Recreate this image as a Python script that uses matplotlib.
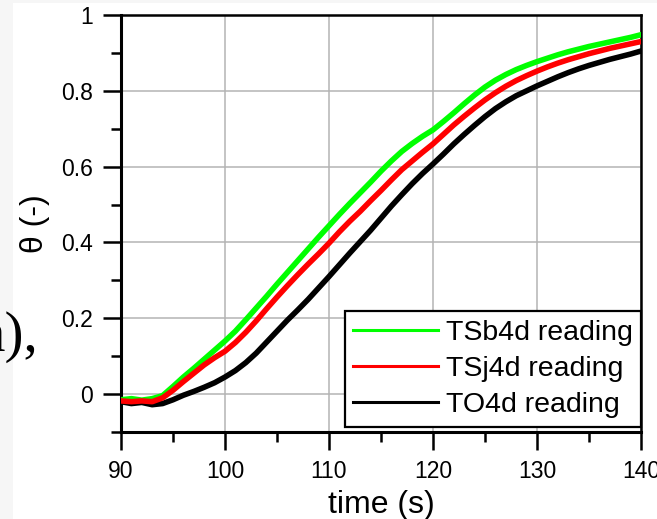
import matplotlib
matplotlib.use("Agg")
import matplotlib.pyplot as plt
from matplotlib.patches import Rectangle
from matplotlib.ticker import MultipleLocator, FuncFormatter

# ---- data ----
time_s = list(range(90, 141))
tsb4d = [-0.015, -0.012, -0.016, -0.012, -0.004, 0.020, 0.045, 0.068, 0.092, 0.116,
         0.140, 0.166, 0.196, 0.227, 0.258, 0.290, 0.321, 0.352, 0.383, 0.414,
         0.444, 0.474, 0.503, 0.531, 0.559, 0.588, 0.615, 0.640, 0.661, 0.680,
         0.697, 0.719, 0.742, 0.766, 0.789, 0.810, 0.828, 0.843, 0.856, 0.867,
         0.877, 0.886, 0.895, 0.903, 0.910, 0.917, 0.923, 0.929, 0.935, 0.941, 0.948]
tsj4d = [-0.018, -0.020, -0.018, -0.020, -0.010, 0.010, 0.033, 0.055, 0.077, 0.096,
         0.113, 0.136, 0.163, 0.193, 0.225, 0.256, 0.286, 0.315, 0.343, 0.370,
         0.398, 0.428, 0.456, 0.482, 0.510, 0.537, 0.565, 0.592, 0.615, 0.638,
         0.660, 0.685, 0.710, 0.733, 0.755, 0.776, 0.795, 0.812, 0.827, 0.840,
         0.852, 0.863, 0.873, 0.882, 0.890, 0.898, 0.905, 0.912, 0.918, 0.924, 0.930]
to4d = [-0.020, -0.025, -0.022, -0.028, -0.025, -0.015, -0.003, 0.007, 0.018, 0.030,
        0.045, 0.062, 0.083, 0.108, 0.137, 0.166, 0.195, 0.222, 0.250, 0.280,
        0.310, 0.341, 0.372, 0.402, 0.432, 0.464, 0.496, 0.526, 0.555, 0.582,
        0.607, 0.633, 0.660, 0.685, 0.709, 0.732, 0.753, 0.771, 0.787, 0.800,
        0.813, 0.825, 0.837, 0.848, 0.858, 0.867, 0.875, 0.883, 0.890, 0.897, 0.905]
labels = ["TSb4d reading", "TSj4d reading", "TO4d reading"]
colors = ["#00ff00", "#ff0000", "#000000"]
x_ticks = [90, 100, 110, 120, 130, 140]
y_ticks = [0, 0.2, 0.4, 0.6, 0.8, 1.0]

plt.rcParams['font.family'] = ['Liberation Sans', 'DejaVu Sans']

W, H = 657, 519
fig = plt.figure(figsize=(W / 100, H / 100), dpi=100)
fig.patch.set_facecolor("white")
# screenshot-like light gray margins
fig.patches.append(Rectangle((0, 0), 13 / W, 1, transform=fig.transFigure,
                             facecolor="#f6f6f6", edgecolor="none", zorder=0))
fig.patches.append(Rectangle((0, 1 - 3 / H), 1, 3 / H, transform=fig.transFigure,
                             facecolor="#f6f6f6", edgecolor="none", zorder=0))

ax = fig.add_axes([121 / W, 1 - 432 / H, 520 / W, 417 / H])

lw = 4.0
l_black, = ax.plot(time_s, to4d, color=colors[2], lw=lw, zorder=3)
l_green, = ax.plot(time_s, tsb4d, color=colors[0], lw=lw, zorder=4)
l_red, = ax.plot(time_s, tsj4d, color=colors[1], lw=lw, zorder=5)

ax.set_xlim(90, 140)
ax.set_ylim(-0.1, 1.0)
ax.set_xticks(x_ticks)
ax.set_yticks(y_ticks)
ax.xaxis.set_minor_locator(MultipleLocator(5))
ax.yaxis.set_minor_locator(MultipleLocator(0.1))
ax.yaxis.set_major_formatter(FuncFormatter(lambda v, p: ("%g" % round(v, 2))))
ax.grid(True, which='major', color="#b4b4b4", lw=1.1, zorder=1)
ax.set_axisbelow(True)

for s in ["left", "bottom"]:
    ax.spines[s].set_linewidth(2.2)
for s in ["top", "right"]:
    ax.spines[s].set_linewidth(1.8)
ax.tick_params(which='major', direction='out', length=13, width=1.8,
               labelsize=16.5, top=False, right=False)
ax.tick_params(which='minor', direction='out', length=7, width=1.8,
               top=False, right=False)
ax.tick_params(axis='x', which='major', pad=7)
ax.tick_params(axis='y', which='major', pad=7)

ax.set_xlabel("time (s)", fontsize=23, labelpad=5)
ax.set_ylabel("θ (-)", fontsize=23, labelpad=8)

leg = ax.legend([l_green, l_red, l_black], labels, loc='lower right',
                bbox_to_anchor=(1.0, 0.012), fontsize=20.5, frameon=True,
                fancybox=False, framealpha=1, edgecolor='black',
                handlelength=3.0, handletextpad=0.25, labelspacing=0.36,
                borderpad=0.3, borderaxespad=0)
leg.get_frame().set_linewidth(1.6)
for h in leg.get_lines():
    h.set_linewidth(2.2)

# fragment of surrounding document text
fig.text(-23 / W, 1 - 351 / H, "n),", fontsize=41, family='Liberation Serif',
         va='baseline', ha='left')

fig.savefig("out.png", dpi=100)
